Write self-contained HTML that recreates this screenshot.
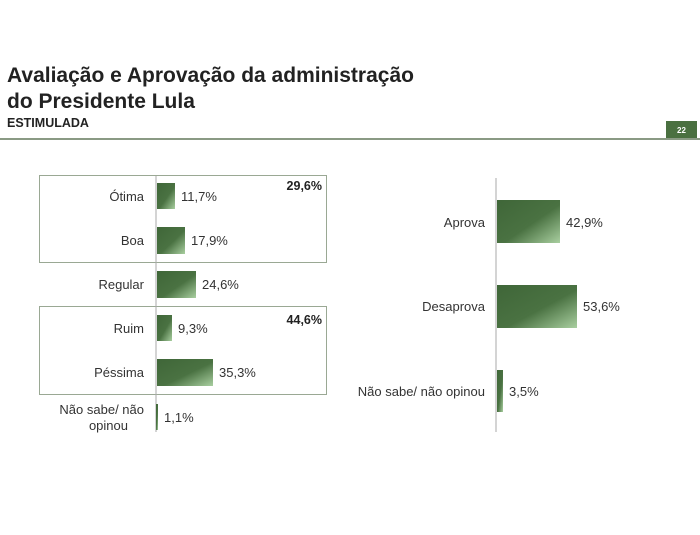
<!DOCTYPE html>
<html><head><meta charset="utf-8"><style>
body{margin:0;width:700px;height:530px;background:#fff;overflow:hidden;font-family:"Liberation Sans",sans-serif}
</style></head><body>
<svg width="700" height="530" xmlns="http://www.w3.org/2000/svg" font-family="Liberation Sans, sans-serif">
<defs><linearGradient id="g" x1="0" y1="0" x2="1" y2="1">
<stop offset="0" stop-color="#3f6638"/><stop offset="0.55" stop-color="#4a7242"/><stop offset="1" stop-color="#a9cfa0"/></linearGradient></defs>
<text x="7" y="82" font-size="21" font-weight="bold" fill="#222">Avaliação e Aprovação da administração</text>
<text x="7" y="108" font-size="21" font-weight="bold" fill="#222">do Presidente Lula</text>
<text x="7" y="127" font-size="12.5" font-weight="bold" fill="#222">ESTIMULADA</text>
<line x1="0" y1="139" x2="700" y2="139" stroke="#8a9a84" stroke-width="2"/>
<rect x="666" y="121" width="31" height="17" fill="#4a7040"/>
<text x="681.5" y="133" font-size="8" font-weight="bold" fill="#fff" text-anchor="middle">22</text>
<g font-size="13" fill="#333">
<rect x="39.5" y="175.5" width="287" height="87" fill="none" stroke="#9aa894"/>
<rect x="39.5" y="306.5" width="287" height="88" fill="none" stroke="#9aa894"/>
<line x1="156" y1="176" x2="156" y2="432" stroke="#aaa"/>
<rect x="157" y="183" width="18" height="26" fill="url(#g)"/>
<rect x="157" y="227" width="28" height="27" fill="url(#g)"/>
<rect x="157" y="271" width="39" height="27" fill="url(#g)"/>
<rect x="157" y="315" width="15" height="26" fill="url(#g)"/>
<rect x="157" y="359" width="56" height="27" fill="url(#g)"/>
<rect x="156" y="404" width="2" height="26" fill="url(#g)"/>
<g text-anchor="end">
<text x="144" y="201">Ótima</text><text x="144" y="245">Boa</text><text x="144" y="289">Regular</text>
<text x="144" y="333">Ruim</text><text x="144" y="377">Péssima</text>
<text x="144" y="414">Não sabe/ não</text><text x="128" y="430">opinou</text>
</g>
<text x="181" y="201">11,7%</text><text x="191" y="245">17,9%</text><text x="202" y="289">24,6%</text>
<text x="178" y="333">9,3%</text><text x="219" y="377">35,3%</text><text x="164" y="422">1,1%</text>
<text x="322" y="190" text-anchor="end" font-weight="bold" font-size="12.5" fill="#222">29,6%</text>
<text x="322" y="324" text-anchor="end" font-weight="bold" font-size="12.5" fill="#222">44,6%</text>
<line x1="496" y1="178" x2="496" y2="432" stroke="#aaa"/>
<rect x="497" y="200" width="63" height="43" fill="url(#g)"/>
<rect x="497" y="285" width="80" height="43" fill="url(#g)"/>
<rect x="497" y="370" width="6" height="42" fill="url(#g)"/>
<g text-anchor="end"><text x="485" y="227">Aprova</text><text x="485" y="311">Desaprova</text><text x="485" y="396">Não sabe/ não opinou</text></g>
<text x="566" y="227">42,9%</text><text x="583" y="311">53,6%</text><text x="509" y="396">3,5%</text>
</g>
</svg>
</body></html>
